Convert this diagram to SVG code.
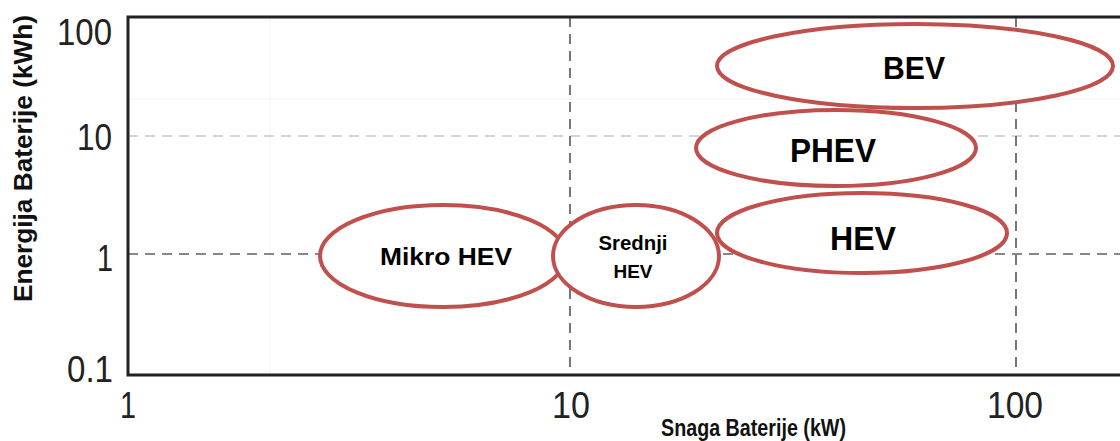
<svg xmlns="http://www.w3.org/2000/svg" width="1120" height="441" viewBox="0 0 1120 441">
<style>
.tick{font-family:"Liberation Sans",Arial,sans-serif;font-size:37px;fill:#222;}
.axis{font-family:"Liberation Sans",Arial,sans-serif;font-weight:bold;fill:#111;}
.lbl{font-family:"Liberation Sans",Arial,sans-serif;font-weight:bold;fill:#000;text-anchor:middle;}
.ell{fill:#fff;stroke:#c0504d;stroke-width:4;}
.gv{stroke:#555;stroke-width:1.6;stroke-dasharray:10 7;fill:none;}
.gh1{stroke:#888;stroke-width:1.8;stroke-dasharray:10 7;fill:none;}
.gh10{stroke:#d4d4d4;stroke-width:1.8;stroke-dasharray:10 7;fill:none;}
.faint{stroke:#f4f4f4;stroke-width:1;fill:none;}
.frame{stroke:#222;stroke-width:3;fill:none;}
</style>
<rect width="1120" height="441" fill="#fff"/>
<g id="grid">
<line class="faint" x1="128" y1="99" x2="1120" y2="99"/>
<line class="faint" x1="270" y1="17" x2="270" y2="375"/>
<line class="gh10" x1="128" y1="136" x2="1120" y2="136"/>
<line class="gh1" x1="128" y1="254" x2="1120" y2="254"/>
<line class="gv" x1="570" y1="17" x2="570" y2="375"/>
<line class="gv" x1="1016" y1="17" x2="1016" y2="375"/>
</g>
<g id="frame">
<path class="frame" d="M1120 17 H128 V375 H1120"/>
</g>
<g id="ticks">
<text class="tick" x="112" y="45" text-anchor="end" textLength="55" lengthAdjust="spacingAndGlyphs">100</text>
<text class="tick" x="112" y="150" text-anchor="end" textLength="35" lengthAdjust="spacingAndGlyphs">10</text>
<text class="tick" x="113" y="271" text-anchor="end" textLength="16" lengthAdjust="spacingAndGlyphs">1</text>
<text class="tick" x="113" y="382" text-anchor="end" textLength="46" lengthAdjust="spacingAndGlyphs">0.1</text>
<text class="tick" x="128" y="418" text-anchor="middle" textLength="16" lengthAdjust="spacingAndGlyphs">1</text>
<text class="tick" x="571" y="418" text-anchor="middle" textLength="38" lengthAdjust="spacingAndGlyphs">10</text>
<text class="tick" x="1015" y="418" text-anchor="middle" textLength="56" lengthAdjust="spacingAndGlyphs">100</text>
</g>
<g id="axis-titles">
<text class="axis" x="661" y="436" font-size="23" textLength="185" lengthAdjust="spacingAndGlyphs">Snaga Baterije (kW)</text>
<text class="axis" transform="translate(32,302) rotate(-90)" x="0" y="0" font-size="25" textLength="287" lengthAdjust="spacingAndGlyphs">Energija Baterije (kWh)</text>
</g>
<g id="node-mikro-hev">
<ellipse class="ell" cx="443" cy="256" rx="123" ry="51"/>
<text class="lbl" x="446" y="265" font-size="24" textLength="132" lengthAdjust="spacingAndGlyphs">Mikro HEV</text>
</g>
<g id="node-srednji-hev">
<ellipse class="ell" cx="636" cy="256" rx="83" ry="51"/>
<text class="lbl" x="633" y="250" font-size="20" textLength="69" lengthAdjust="spacingAndGlyphs">Srednji</text>
<text class="lbl" x="633" y="278" font-size="19" textLength="39" lengthAdjust="spacingAndGlyphs">HEV</text>
</g>
<g id="node-hev">
<ellipse class="ell" cx="862" cy="233" rx="145" ry="40"/>
<text class="lbl" x="863" y="250" font-size="34" textLength="66" lengthAdjust="spacingAndGlyphs">HEV</text>
</g>
<g id="node-phev">
<ellipse class="ell" cx="836" cy="148" rx="140" ry="38"/>
<text class="lbl" x="833" y="162" font-size="34" textLength="86" lengthAdjust="spacingAndGlyphs">PHEV</text>
</g>
<g id="node-bev">
<ellipse class="ell" cx="915" cy="66" rx="198" ry="42"/>
<text class="lbl" x="914" y="79" font-size="32" textLength="62" lengthAdjust="spacingAndGlyphs">BEV</text>
</g>
<g id="connectors"></g>
</svg>
